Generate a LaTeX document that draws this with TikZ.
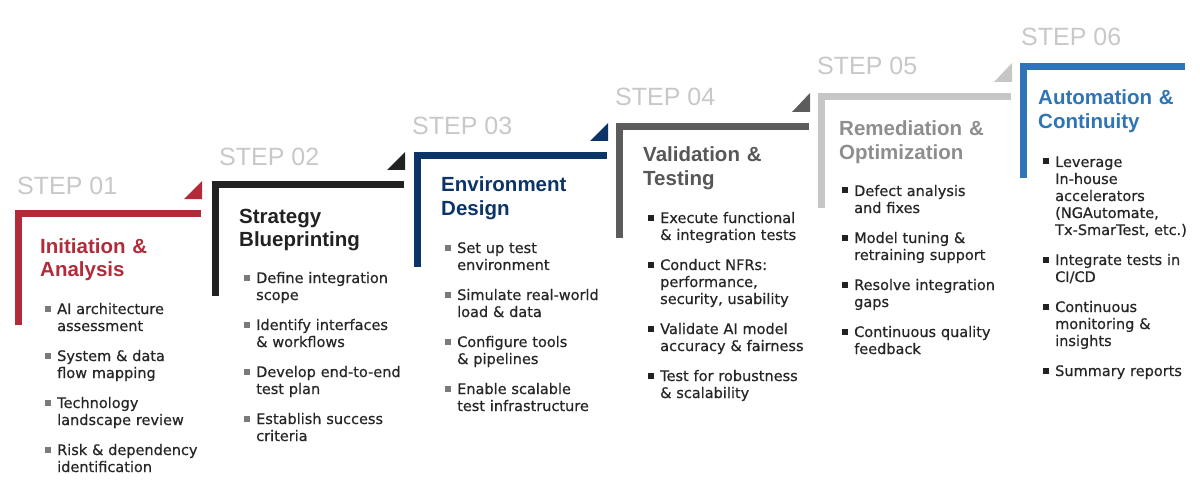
\documentclass[tikz,border=0pt]{standalone}
\usepackage{fontspec}
\setmainfont{DejaVu Sans}
\newfontfamily\itmfont{DejaVu Sans}[FakeBold=0.6]
\newfontfamily\ttlfont{Liberation Sans}
\usetikzlibrary{calc}
\definecolor{cA}{HTML}{B22B38}
\definecolor{cB}{HTML}{222222}
\definecolor{cC}{HTML}{0D3467}
\definecolor{cD}{HTML}{5C5C5C}
\definecolor{cE}{HTML}{C6C6C6}
\definecolor{cF}{HTML}{2F74B5}
\definecolor{tD}{HTML}{575757}
\definecolor{tE}{HTML}{8E8E8E}
\definecolor{lbl}{HTML}{C8C8C8}
\definecolor{txt}{HTML}{262626}
\definecolor{sqlight}{HTML}{7A7A7A}
\begin{document}
\begin{tikzpicture}[x=1pt,y=-1pt,
  steplbl/.style={anchor=base west,inner sep=0pt,text=lbl,font=\ttlfont\fontsize{25}{30}\selectfont},
  ttlnode/.style={anchor=base west,inner sep=0pt,text width=175pt,align=left,font=\ttlfont\bfseries\fontsize{20.5}{23.5}\selectfont},
  itm/.style={anchor=base west,inner sep=0pt,text width=150pt,align=left,text=txt,font=\itmfont\fontsize{14.5}{17}\selectfont},
  sq/.style={inner sep=0pt,minimum size=6pt,draw=none}]
\useasboundingbox (0,0) rectangle (1200,500);

% ---------- bars and triangles ----------
% step 1
\fill[cA] (15,210) rectangle (201,217);
\fill[cA] (15,210) rectangle (22,325);
\fill[cA] (184,199) -- (202,199) -- (202,181) -- cycle;
% step 2
\fill[cB] (212,181) rectangle (404,188);
\fill[cB] (212,181) rectangle (219,296);
\fill[cB] (387,170) -- (405,170) -- (405,152) -- cycle;
% step 3
\fill[cC] (414,152) rectangle (607,159);
\fill[cC] (414,152) rectangle (421,267);
\fill[cC] (590,141) -- (608,141) -- (608,123) -- cycle;
% step 4
\fill[cD] (616,123) rectangle (809,130);
\fill[cD] (616,123) rectangle (623,238);
\fill[cD] (792,112) -- (810,112) -- (810,93) -- cycle;
% step 5
\fill[cE] (818,93) rectangle (1011,100);
\fill[cE] (818,93) rectangle (825,208);
\fill[cE] (994,82) -- (1012,82) -- (1012,63) -- cycle;
% step 6
\fill[cF] (1020,63) rectangle (1185,70);
\fill[cF] (1020,63) rectangle (1027,178);

% ---------- step labels ----------
\node[steplbl] (l1) at (17,195) {STEP 01};
\node[steplbl] (l2) at (219,165) {STEP 02};
\node[steplbl] (l3) at (412,135) {STEP 03};
\node[steplbl] (l4) at (615,106) {STEP 04};
\node[steplbl] (l5) at (817,75) {STEP 05};
\node[steplbl] (l6) at (1021,46) {STEP 06};

% ---------- titles ----------
\node[ttlnode,text=cA] (h1) at (40,253) {Initiation \&\\Analysis};
\node[ttlnode,text=cB] (h2) at (239,223) {Strategy\\Blueprinting};
\node[ttlnode,text=cC] (h3) at (441,192) {Environment\\Design};
\node[ttlnode,text=tD] (h4) at (643,162) {Validation \&\\Testing};
\node[ttlnode,text=tE] (h5) at (839,136) {Remediation \&\\Optimization};
\node[ttlnode,text=cF] (h6) at (1038,105) {Automation \&\\Continuity};

% ---------- step 1 items ----------
\node[itm] (a1) at (57,314) {AI architecture\\assessment};
\node[itm] (a2) at ($(a1.base west)+(0,47)$) {System \& data\\flow mapping};
\node[itm] (a3) at ($(a2.base west)+(0,47)$) {Technology\\landscape review};
\node[itm] (a4) at ($(a3.base west)+(0,47)$) {Risk \& dependency\\identification};
% ---------- step 2 items ----------
\node[itm] (b1) at (256,283) {Define integration\\scope};
\node[itm] (b2) at ($(b1.base west)+(0,47)$) {Identify interfaces\\\& workflows};
\node[itm] (b3) at ($(b2.base west)+(0,47)$) {Develop end-to-end\\test plan};
\node[itm] (b4) at ($(b3.base west)+(0,47)$) {Establish success\\criteria};
% ---------- step 3 items ----------
\node[itm] (c1) at (457,253) {Set up test\\environment};
\node[itm] (c2) at ($(c1.base west)+(0,47)$) {Simulate real-world\\load \& data};
\node[itm] (c3) at ($(c2.base west)+(0,47)$) {Configure tools\\\& pipelines};
\node[itm] (c4) at ($(c3.base west)+(0,47)$) {Enable scalable\\test infrastructure};
% ---------- step 4 items ----------
\node[itm] (d1) at (660,223) {Execute functional\\\& integration tests};
\node[itm] (d2) at ($(d1.base west)+(0,47)$) {Conduct NFRs:\\performance,\\security, usability};
\node[itm] (d3) at ($(d2.base west)+(0,64)$) {Validate AI model\\accuracy \& fairness};
\node[itm] (d4) at ($(d3.base west)+(0,47)$) {Test for robustness\\\& scalability};
% ---------- step 5 items ----------
\node[itm] (e1) at (854,196) {Defect analysis\\and fixes};
\node[itm] (e2) at ($(e1.base west)+(0,47)$) {Model tuning \&\\retraining support};
\node[itm] (e3) at ($(e2.base west)+(0,47)$) {Resolve integration\\gaps};
\node[itm] (e4) at ($(e3.base west)+(0,47)$) {Continuous quality\\feedback};
% ---------- step 6 items ----------
\node[itm] (f1) at (1055,167) {Leverage\\In-house\\accelerators\\(NGAutomate,\\Tx-SmarTest, etc.)};
\node[itm] (f2) at ($(f1.base west)+(0,98)$) {Integrate tests in\\CI/CD};
\node[itm] (f3) at ($(f2.base west)+(0,47)$) {Continuous\\monitoring \&\\insights};
\node[itm] (f4) at ($(f3.base west)+(0,64)$) {Summary reports};

% ---------- bullet squares ----------
\foreach \n in {a1,a2,a3,a4,b1,b2,b3,b4,c1,c2,c3,c4}
  \node[sq,fill=sqlight] (q\n) at ($(\n.base west)+(-9.5,-5.5)$) {};
\foreach \n in {d1,d2,d3,d4,e1,e2,e3,e4,f1,f2,f3,f4}
  \node[sq,fill=cB] (q\n) at ($(\n.base west)+(-9.5,-5.5)$) {};
\end{tikzpicture}
\end{document}
